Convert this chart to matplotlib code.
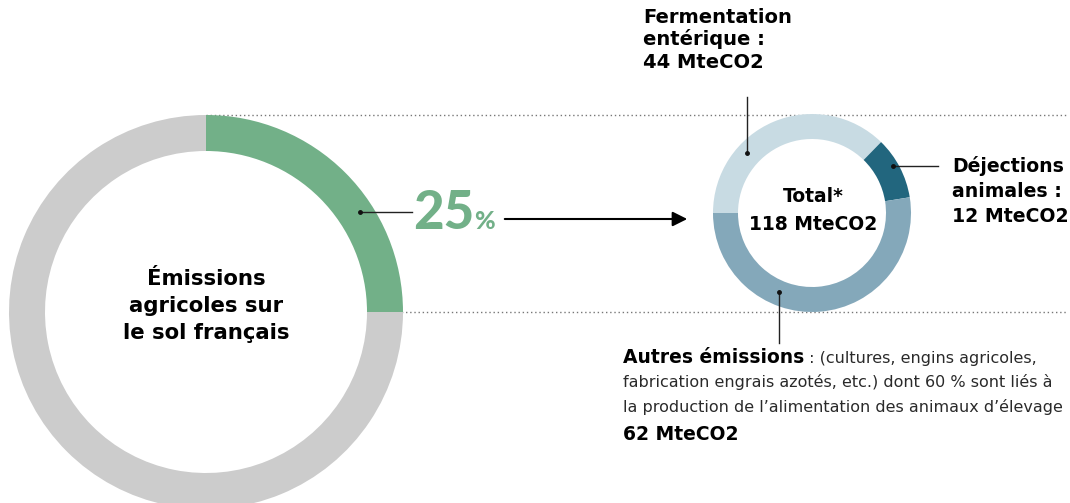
import matplotlib.pyplot as plt

W, H = 1070, 503

# data
part_labels = ["Part agricole", "Reste"]
part_values = [25, 75]
part_colors = ["#72b088", "#cccccc"]

src_labels = ["Fermentation entérique", "Déjections animales", "Autres émissions"]
src_values = [44, 12, 62]
src_colors = ["#c8dbe3", "#22667e", "#84a8ba"]
total = sum(src_values)

plt.rcParams['font.family'] = ['DejaVu Sans']

fig = plt.figure(figsize=(W / 100, H / 100), dpi=100)
ax = fig.add_axes([0, 0, 1, 1])


def fy(y):
    # pixel row (from top) -> data y
    return H - y


def lines(x, baselines, texts, ha='left', **kw):
    for b, s in zip(baselines, texts):
        ax.text(x, fy(b), s, ha=ha, va='baseline', **kw)


def leader(x0, y0, x1, y1):
    ax.plot([x0, x1], [fy(y0), fy(y1)], color="#222222", lw=1)
    ax.plot([x0], [fy(y0)], 'o', color="#111111", ms=2.5)


# big donut
ax.pie(part_values, colors=part_colors, startangle=90, counterclock=False,
       center=(206, fy(312)), radius=197,
       wedgeprops=dict(width=36, linewidth=0))

# small donut
ax.pie(src_values, colors=src_colors, startangle=180, counterclock=False,
       center=(812, fy(213)), radius=99,
       wedgeprops=dict(width=25, linewidth=0))

ax.set_xlim(0, W)
ax.set_ylim(0, H)
ax.set_aspect('equal')
ax.axis('off')

# dotted guides
ax.plot([206, 1068], [fy(115), fy(115)], color="#777777", lw=1,
        dashes=(1, 2), zorder=0)
ax.plot([368, 1068], [fy(312), fy(312)], color="#777777", lw=1,
        dashes=(1, 2), zorder=0)

# centre texts
lines(206, [285, 312, 339], ["Émissions", "agricoles sur", "le sol français"],
      ha='center', fontsize=15.3, fontweight='bold')
lines(813, [202, 230], ["Total*", "%d MteCO2" % total],
      ha='center', fontsize=13.5, fontweight='bold')

# 25 % label and arrow
leader(360, 212, 412, 212)
lines(413, [229], ["%d" % part_values[0]], fontsize=38, fontweight='black',
      color=part_colors[0], family=['Lato', 'DejaVu Sans'])
lines(474, [229], ["%"], fontsize=18, fontweight='black',
      color=part_colors[0], family=['Lato', 'DejaVu Sans'])
ax.annotate("", xy=(690, fy(219)), xytext=(502, fy(219)),
            arrowprops=dict(arrowstyle='-|>', color='black', lw=1.5,
                            mutation_scale=22))

# Fermentation
leader(747, 153, 747, 97)
lines(643, [23, 45, 68],
      ["Fermentation", "entérique :", "%d MteCO2" % src_values[0]],
      fontsize=14, fontweight='bold')

# Déjections
leader(893, 166, 938, 166)
lines(952, [172, 197, 222],
      ["Déjections", "animales :", "%d MteCO2" % src_values[1]],
      fontsize=13.6, fontweight='bold')

# Autres émissions
leader(779, 292, 779, 343)
lines(623, [363], ["Autres émissions"], fontsize=13.5, fontweight='bold')
lines(804, [363], [" : (cultures, engins agricoles,"],
      fontsize=11.5, color="#2a2a2a")
lines(623, [387, 412],
      ["fabrication engrais azotés, etc.) dont 60 % sont liés à",
       "la production de l’alimentation des animaux d’élevage"],
      fontsize=11.5, color="#2a2a2a")
lines(623, [440], ["%d MteCO2" % src_values[2]], fontsize=13.5, fontweight='bold')

fig.savefig("out.png", dpi=100)
